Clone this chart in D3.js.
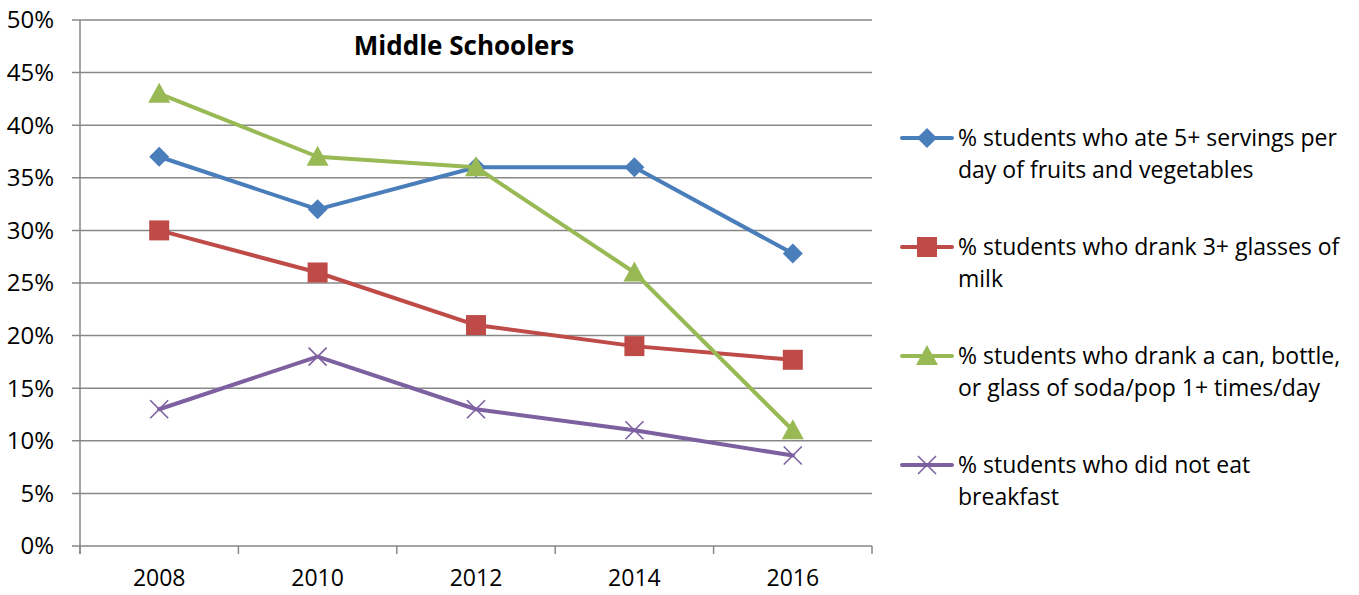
<!DOCTYPE html>
<html>
<head>
<meta charset="utf-8">
<script src="https://cdn.jsdelivr.net/npm/d3@7"></script>
<style>
  html, body { margin: 0; padding: 0; background: #fff; }
  svg { display: block; font-family: "Open Sans", "Noto Sans", sans-serif; }
</style>
</head>
<body>
<svg id="chart" width="1359" height="595"></svg>
<script>
// Survey years and yearly percentages for each indicator
const years = ["2008", "2010", "2012", "2014", "2016"];
const fruitVeg = [37, 32, 36, 36, 27.8];
const milk = [30, 26, 21, 19, 17.7];
const soda = [43, 37, 36, 26, 11];
const noBreakfast = [13, 18, 13, 11, 8.6];
const yTicks = [0, 5, 10, 15, 20, 25, 30, 35, 40, 45, 50];
const chartTitle = "Middle Schoolers";

const series = [
  { name: ["% students who ate 5+ servings per", "day of fruits and vegetables"], values: fruitVeg, color: "#4A7EBB", symbol: "diamond" },
  { name: ["% students who drank 3+ glasses of", "milk"], values: milk, color: "#BE4B48", symbol: "square" },
  { name: ["% students who drank a can, bottle,", "or glass of soda/pop 1+ times/day"], values: soda, color: "#98B954", symbol: "triangle" },
  { name: ["% students who did not eat", "breakfast"], values: noBreakfast, color: "#7D60A0", symbol: "cross" }
];

const svg = d3.select("#chart");
const plot = { left: 80, right: 872, top: 20, bottom: 546 };

const x = d3.scaleBand().domain(years).range([plot.left, plot.right]);
const y = d3.scaleLinear().domain([0, 50]).range([plot.bottom, plot.top]);
const gridColor = "#878787";

// Horizontal gridlines
svg.append("g")
  .selectAll("line")
  .data(yTicks)
  .join("line")
  .attr("x1", plot.left - 8)
  .attr("x2", plot.right)
  .attr("y1", d => y(d))
  .attr("y2", d => y(d))
  .attr("stroke", gridColor)
  .attr("stroke-width", 1.5);

// Y axis labels
svg.append("g")
  .selectAll("text")
  .data(yTicks)
  .join("text")
  .attr("x", 54)
  .attr("y", d => y(d))
  .attr("dy", "0.35em")
  .attr("text-anchor", "end")
  .attr("font-size", 24)
  .attr("fill", "#000")
  .text(d => d + "%");

// Vertical axis line
svg.append("line")
  .attr("x1", plot.left).attr("x2", plot.left)
  .attr("y1", plot.top).attr("y2", plot.bottom + 8)
  .attr("stroke", gridColor).attr("stroke-width", 1.5);

// Category tick marks between years
const boundaries = years.map(d => x(d)).concat([plot.right]);
svg.append("g")
  .selectAll("line")
  .data(boundaries)
  .join("line")
  .attr("x1", d => d).attr("x2", d => d)
  .attr("y1", plot.bottom).attr("y2", plot.bottom + 8)
  .attr("stroke", gridColor).attr("stroke-width", 1.5);

// X axis labels
svg.append("g")
  .selectAll("text")
  .data(years)
  .join("text")
  .attr("x", d => x(d) + x.bandwidth() / 2)
  .attr("y", 578)
  .attr("dy", "0.35em")
  .attr("text-anchor", "middle")
  .attr("font-size", 23)
  .attr("fill", "#000")
  .text(d => d);

// Title
svg.append("text")
  .attr("x", 464)
  .attr("y", 46)
  .attr("dy", "0.35em")
  .attr("text-anchor", "middle")
  .attr("font-size", 26)
  .attr("font-weight", "bold")
  .attr("fill", "#000")
  .text(chartTitle);

const cx = d => x(d) + x.bandwidth() / 2;

function drawMarker(g, symbol, color, px, py) {
  if (symbol === "diamond") {
    g.append("path")
      .attr("d", `M${px},${py - 10}L${px + 10},${py}L${px},${py + 10}L${px - 10},${py}Z`)
      .attr("fill", color);
  } else if (symbol === "square") {
    g.append("rect")
      .attr("x", px - 10).attr("y", py - 10)
      .attr("width", 20).attr("height", 20)
      .attr("fill", color);
  } else if (symbol === "triangle") {
    g.append("path")
      .attr("d", `M${px},${py - 11}L${px + 11},${py + 9}L${px - 11},${py + 9}Z`)
      .attr("fill", color);
  } else if (symbol === "cross") {
    g.append("path")
      .attr("d", `M${px - 9},${py - 9}L${px + 9},${py + 9}M${px + 9},${py - 9}L${px - 9},${py + 9}`)
      .attr("stroke", color)
      .attr("stroke-width", 1.6)
      .attr("fill", "none");
  }
}

// Series lines and markers
const line = d3.line().x((d, i) => cx(years[i])).y(d => y(d));
series.forEach(s => {
  const g = svg.append("g");
  g.append("path")
    .datum(s.values)
    .attr("d", line)
    .attr("fill", "none")
    .attr("stroke", s.color)
    .attr("stroke-width", 4)
    .attr("stroke-linejoin", "round")
    .attr("stroke-linecap", "round");
  s.values.forEach((v, i) => drawMarker(g, s.symbol, s.color, cx(years[i]), y(v)));
});

// Legend
const legendTop = 138, legendStep = 109;
series.forEach((s, i) => {
  const ly = legendTop + i * legendStep;
  const g = svg.append("g");
  g.append("line")
    .attr("x1", 902).attr("x2", 952)
    .attr("y1", ly).attr("y2", ly)
    .attr("stroke", s.color)
    .attr("stroke-width", 4)
    .attr("stroke-linecap", "round");
  drawMarker(g, s.symbol, s.color, 927, ly);
  s.name.forEach((t, j) => {
    g.append("text")
      .attr("x", 958)
      .attr("y", ly + j * 32)
      .attr("dy", "0.35em")
      .attr("font-size", 23)
      .attr("fill", "#000")
      .text(t);
  });
});
</script>
</body>
</html>
